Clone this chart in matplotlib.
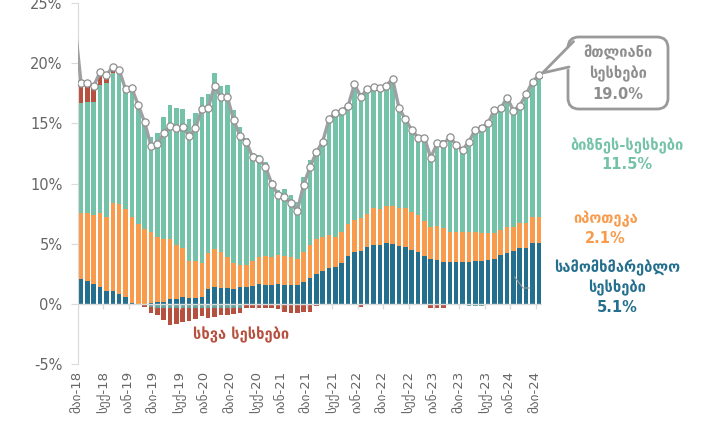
import matplotlib.pyplot as plt
import numpy as np
from matplotlib.lines import Line2D
from matplotlib.patches import FancyBboxPatch, Polygon
from matplotlib.transforms import Affine2D

plt.rcParams["font.family"] = "DejaVu Sans"

# x tick labels (every 4th month, May 2018 - May 2024)
tick_labels = ["მაი-18", "სექ-18", "იან-19", "მაი-19", "სექ-19", "იან-20",
               "მაი-20", "სექ-20", "იან-21", "მაი-21", "სექ-21", "იან-22",
               "მაი-22", "სექ-22", "იან-23", "მაი-23", "სექ-23", "იან-24",
               "მაი-24"]

# contributions to loan growth, pp (73 months)
consumer = [2.11, 1.89, 1.66, 1.44, 1.11, 1.11, 0.83, 0.56, 0.06, 0.00,
            0.00, 0.05, 0.17, 0.20, 0.39, 0.45, 0.61, 0.47, 0.53, 0.61,
            1.22, 1.44, 1.36, 1.33, 1.28, 1.39, 1.39, 1.50, 1.66, 1.58,
            1.58, 1.66, 1.58, 1.58, 1.58, 1.86, 2.19, 2.50, 2.77, 2.97,
            3.05, 3.44, 4.02, 4.29, 4.43, 4.71, 4.88, 4.88, 5.04, 5.01,
            4.82, 4.77, 4.49, 4.32, 3.99, 3.77, 3.66, 3.52, 3.52, 3.52,
            3.52, 3.52, 3.57, 3.60, 3.66, 3.74, 4.07, 4.27, 4.43, 4.63,
            4.63, 5.10, 5.10]
mortgage = [5.42, 5.64, 5.71, 6.09, 6.09, 7.25, 7.45, 7.31, 7.14, 6.68,
            6.26, 5.91, 5.43, 5.17, 5.01, 4.42, 4.04, 3.13, 3.07, 2.83,
            3.05, 3.13, 2.96, 2.60, 2.10, 1.88, 1.88, 2.10, 2.27, 2.44,
            2.30, 2.41, 2.41, 2.35, 2.13, 2.49, 2.71, 2.87, 2.83, 2.76,
            2.55, 2.57, 2.60, 2.69, 2.69, 2.77, 3.07, 3.01, 3.13, 3.16,
            3.18, 3.23, 3.18, 3.08, 2.91, 2.60, 2.85, 2.77, 2.49, 2.49,
            2.49, 2.49, 2.44, 2.33, 2.21, 2.19, 2.08, 2.10, 2.00, 2.07,
            2.07, 2.16, 2.10]
business = [9.14, 9.28, 9.44, 10.66, 11.13, 10.80, 11.02, 9.96, 10.72, 9.82,
            9.14, 7.89, 8.61, 10.16, 11.16, 11.40, 11.53, 11.76, 12.25, 13.79,
            13.21, 14.65, 13.80, 14.22, 12.71, 11.46, 10.52, 8.92, 8.44, 7.74,
            6.44, 5.44, 5.59, 5.15, 4.79, 6.20, 7.08, 7.38, 8.01, 9.71,
            10.38, 10.05, 9.83, 11.27, 10.38, 10.35, 10.10, 10.03, 9.97, 10.52,
            8.31, 7.34, 6.89, 6.52, 7.02, 6.09, 7.14, 7.36, 7.94, 7.30,
            6.88, 7.68, 8.65, 8.92, 9.14, 10.19, 10.10, 10.77, 9.63, 9.78,
            10.72, 11.21, 11.50]
other_fx = [0, 0, 0, 0, 0, 0, 0, 0, 0, 0,
            0, -0.25, -0.30, -0.30, -0.30, -0.30, -0.30, -0.30, -0.30, -0.30,
            -0.30, -0.30, -0.30, -0.30, -0.30, -0.30, -0.10, -0.10, -0.10, -0.10,
            -0.10, -0.10, -0.10, -0.10, -0.10, -0.10, -0.10, -0.05, -0.05, -0.05,
            -0.05, 0, 0, 0, 0, 0, 0, 0, 0, 0,
            0, 0, 0, 0, 0, 0, 0, 0, -0.10, -0.10,
            -0.10, -0.20, -0.20, -0.20, 0, 0, 0, 0, 0, 0,
            0, 0, 0]
other = [1.71, 1.52, 1.32, 1.05, 0.72, 0.50, 0.14, 0, 0, 0,
         -0.28, -0.47, -0.65, -1.05, -1.47, -1.35, -1.20, -1.10, -0.96, -0.73,
         -0.90, -0.78, -0.65, -0.63, -0.50, -0.47, -0.23, -0.24, -0.25, -0.25,
         -0.25, -0.35, -0.56, -0.62, -0.67, -0.56, -0.53, -0.10, -0.07, -0.05,
         -0.03, 0, 0, 0, -0.28, 0, 0, 0, 0, 0,
         0, 0, -0.10, -0.10, -0.10, -0.30, -0.30, -0.35, 0, 0,
         0, 0, 0, 0, 0, 0, 0, 0, 0, 0,
         0, 0, 0.30]
total_before = 23.4  # month before the first bar (line enters from the left)

C_BLUE = "#246F8D"
C_ORANGE = "#F89B4C"
C_TEAL = "#74C2A8"
C_RED = "#B7513F"
C_FX = "#62A39B"
C_GRAY = "#8E8E8E"
C_BOX = "#9A9A9A"
C_TXT = "#666666"

W, H = 712, 430
fig = plt.figure(figsize=(W / 100, H / 100), dpi=100)
ax = fig.add_axes([0.1093, 0.153, 0.652, 0.840])
# pixel coordinates (origin top-left) for the callout decoration
pix = Affine2D().scale(1 / W, -1 / H).translate(0, 1) + fig.transFigure

x = np.arange(len(consumer))
pos = np.zeros(len(x))
neg = np.zeros(len(x))
for vals, col in [(consumer, C_BLUE), (mortgage, C_ORANGE), (business, C_TEAL),
                  (other_fx, C_FX), (other, C_RED)]:
    v = np.asarray(vals, dtype=float)
    bottom = np.where(v >= 0, pos, neg)
    ax.bar(x, v, width=0.72, bottom=bottom, color=col, linewidth=0, zorder=2)
    pos += np.clip(v, 0, None)
    neg += np.clip(v, None, 0)
total = pos + neg

ax.axhline(0, color="#DADADA", lw=1.0, zorder=3)
ax.plot(np.r_[-1, x], np.r_[total_before, total], color="#9DA1A4", lw=2.4,
        zorder=4, solid_joinstyle="round")
ax.plot(x, total, ls="none", marker="o", ms=5.2, mfc="white", mec=C_GRAY,
        mew=0.9, zorder=5)

ax.set_xlim(-0.5, len(x) - 0.5)
ax.set_ylim(-5, 25)
ticks = np.arange(len(tick_labels)) * 4 - 0.5
ax.set_xticks(ticks)
ax.set_xticklabels(tick_labels, rotation=90, fontsize=9.5, color=C_TXT)
ax.tick_params(axis="x", length=0, pad=5)
ax.vlines(ticks, -0.45, 0, color="#DADADA", lw=1.0, zorder=3)
ax.set_yticks(np.arange(-5, 26, 5))
ax.set_yticklabels([f"{v}%" for v in range(-5, 26, 5)], fontsize=10.5,
                   color=C_TXT)
ax.tick_params(axis="y", length=5, color="#DADADA", pad=6)
for s in ("top", "right", "bottom"):
    ax.spines[s].set_visible(False)
ax.spines["left"].set_color("#DADADA")

# series labels
ax.text(85.8, 12.4, "ბიზნეს-სესხები\n11.5%", color=C_TEAL, fontsize=10.5,
        fontweight="bold", ha="center", va="center", linespacing=1.3,
        clip_on=False)
ax.text(82.5, 6.3, "იპოთეკა\n2.1%", color=C_ORANGE, fontsize=10.5,
        fontweight="bold", ha="center", va="center", linespacing=1.3,
        clip_on=False)
ax.text(84.3, 1.4, "სამომხმარებლო\nსესხები\n5.1%", color=C_BLUE,
        fontsize=10.5, fontweight="bold", ha="center", va="center",
        linespacing=1.3, clip_on=False)
ax.text(25.2, -2.57, "სხვა სესხები", color=C_RED, fontsize=10.5,
        fontweight="bold", ha="center", va="center")
ax.plot([68.2, 69.5, 70.6], [2.24, 1.33, 1.33], color=C_BOX, lw=0.8,
        zorder=6)

# callout bubble for the total
fig.add_artist(FancyBboxPatch((568, 37), 100, 72,
                              boxstyle="round,pad=0,rounding_size=11",
                              transform=pix, fc="white", ec=C_BOX, lw=2,
                              zorder=7))
fig.add_artist(Polygon([(543, 73), (575, 41), (575, 68)], closed=True,
                       transform=pix, fc="white", ec="none", zorder=8))
fig.add_artist(Line2D([573.5, 542.5, 569], [41.5, 73, 67], transform=pix,
                      color=C_BOX, lw=2, solid_joinstyle="round",
                      solid_capstyle="round", zorder=9))
fig.text(618 / W, 1 - 73 / H, "მთლიანი\nსესხები\n19.0%", color=C_GRAY,
         fontsize=10.5, fontweight="bold", ha="center", va="center",
         linespacing=1.45, zorder=10)

fig.savefig("out.png", dpi=100)
